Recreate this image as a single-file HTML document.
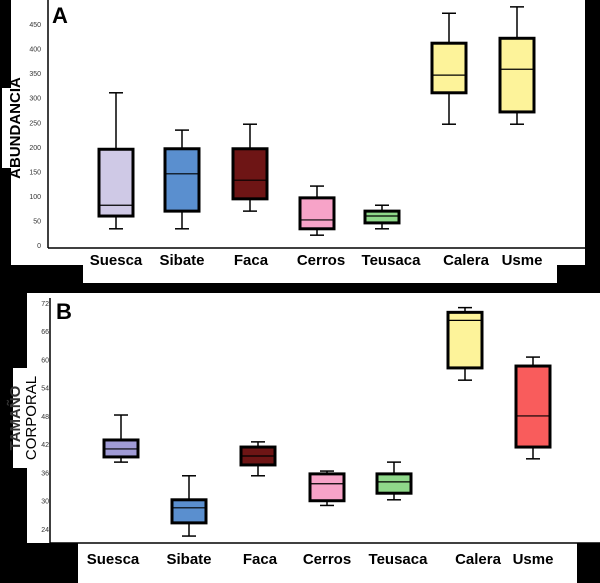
<!DOCTYPE html>
<html><head><meta charset="utf-8"><style>
body{margin:0;background:#000;width:600px;height:583px;overflow:hidden}
svg{display:block}
text{font-family:"Liberation Sans",sans-serif}
</style></head><body>
<svg id="c" width="600" height="583" xmlns="http://www.w3.org/2000/svg">
<rect x="0" y="0" width="600" height="583" fill="#000"/>
<rect x="11" y="0" width="574" height="265" fill="#fff"/>
<rect x="83" y="250" width="474" height="33" fill="#fff"/>
<rect x="2" y="88" width="24" height="80" fill="#fff"/>
<rect x="27" y="293" width="573" height="250" fill="#fff"/>
<rect x="78" y="540" width="499" height="43" fill="#fff"/>
<rect x="13" y="368" width="23" height="100" fill="#fff"/>
<line x1="48" y1="0" x2="48" y2="248" stroke="#000" stroke-width="1.5"/>
<line x1="48" y1="248" x2="585" y2="248" stroke="#000" stroke-width="1.5"/>
<line x1="50" y1="298" x2="50" y2="543" stroke="#000" stroke-width="1.5"/>
<line x1="50" y1="543" x2="600" y2="543" stroke="#000" stroke-width="1.5"/>
<text x="52" y="23" font-size="22" font-weight="bold">A</text>
<text x="56" y="319" font-size="22" font-weight="bold">B</text>
<text transform="translate(20,128) rotate(-90)" text-anchor="middle" font-size="15" font-weight="bold">ABUNDANCIA</text>
<text transform="translate(20,418) rotate(-90)" text-anchor="middle" font-size="15" font-weight="bold" fill="#333">TAMAÑO</text>
<text transform="translate(36,418) rotate(-90)" text-anchor="middle" font-size="15">CORPORAL</text>
<g id="ga"></g><g id="gb"></g>
</svg>
<script>
const sites = ["Suesca","Sibate","Faca","Cerros","Teusaca","Calera","Usme"];
const aTicks = [0,50,100,150,200,250,300,350,400,450];
const aMin = [33,33,69,20,33,246,246];
const aQ1 = [59,69,94,33,45,310,271];
const aMed = [81,145,132,51,59,346,358];
const aQ3 = [195,196,196,96,69,411,421];
const aMax = [310,234,246,120,81,472,485];
const aColors = ["#cfc9e6","#5a8fcf","#6e1515","#f7a3c8","#8fd88a","#fdf39a","#fdf39a"];
const bTicks = [24,30,36,42,48,54,60,66,72];
const bMin = [38.2,22.5,35.3,29,30.2,55.6,38.9];
const bQ1 = [39.3,25.3,37.6,30,31.6,58.2,41.4];
const bMed = [41,28.5,39.5,33.6,34,68.3,48];
const bQ3 = [42.9,30.2,41.4,35.7,35.7,70,58.6];
const bMax = [48.2,35.3,42.5,36.3,38.2,71,60.5];
const bColors = ["#a09bd6","#5a8fcf","#6e1515","#f7a3c8","#8fd88a","#fdf39a","#f95c5c"];
const NS="http://www.w3.org/2000/svg";
function yA(v){return 245-0.491*v;}
function yB(v){return 529-4.71*(v-24);}
const xA=[116,182,250,317,382,449,517], xB=[121,189,258,327,394,465,533];
const labA=[116,182,251,321,391,466,522], labB=[113,189,260,327,398,478,533];
function mk(tag,attrs,parent){const e=document.createElementNS(NS,tag);for(const k in attrs)e.setAttribute(k,attrs[k]);parent.appendChild(e);return e;}
function draw(g,ticks,y,tx,mn,q1,md,q3,mx,cols,xs,labs,labY,pfx,tsize){
  ticks.forEach(t=>{const e=mk('text',{x:tx,y:y(t)+3,'text-anchor':'end','font-size':tsize,fill:'#333'},g);e.textContent=t;
    
    });
  sites.forEach((s,i)=>{
    const cx=xs[i],w=34;
    const grp=mk('g',{},g);
    
    
    mk('line',{x1:cx,x2:cx,y1:y(mx[i]),y2:y(q3[i]),stroke:'#000','stroke-width':1.5},grp);
    mk('line',{x1:cx,x2:cx,y1:y(q1[i]),y2:y(mn[i]),stroke:'#000','stroke-width':1.5},grp);
    mk('line',{x1:cx-7,x2:cx+7,y1:y(mx[i]),y2:y(mx[i]),stroke:'#000','stroke-width':1.5},grp);
    mk('line',{x1:cx-7,x2:cx+7,y1:y(mn[i]),y2:y(mn[i]),stroke:'#000','stroke-width':1.5},grp);
    mk('rect',{x:cx-w/2,y:y(q3[i]),width:w,height:y(q1[i])-y(q3[i]),fill:cols[i],stroke:'#000','stroke-width':3},grp);
    mk('line',{x1:cx-w/2,x2:cx+w/2,y1:y(md[i]),y2:y(md[i]),stroke:'#000','stroke-width':1.2},grp);
    const t=mk('text',{x:labs[i],y:labY,'text-anchor':'middle','font-size':15,'font-weight':'bold'},g);t.textContent=s;
    
    
  });
}
draw(document.getElementById('ga'),aTicks,yA,41,aMin,aQ1,aMed,aQ3,aMax,aColors,xA,labA,265,'panel-a',7);
draw(document.getElementById('gb'),bTicks,yB,49,bMin,bQ1,bMed,bQ3,bMax,bColors,xB,labB,564,'panel-b',7);
</script>
</body></html>
